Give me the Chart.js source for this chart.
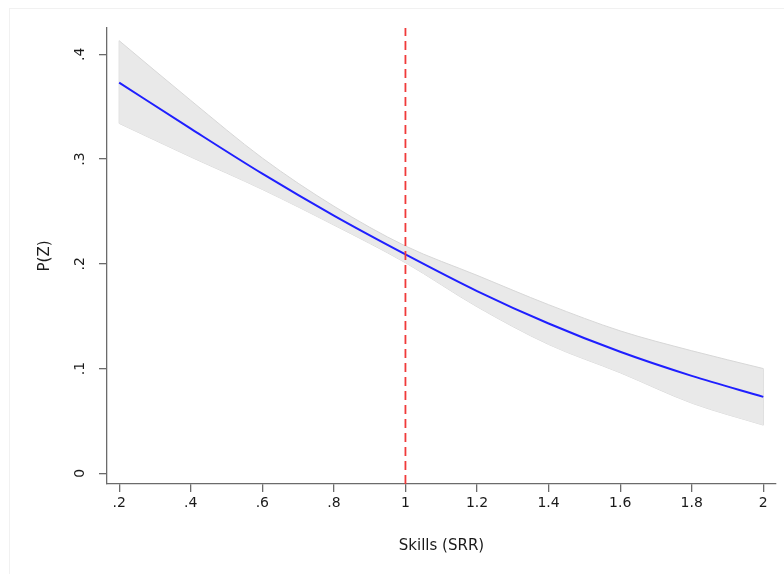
<!DOCTYPE html>
<html>
<head>
<meta charset="utf-8">
<script src="https://cdn.jsdelivr.net/npm/chart.js@4.4.1/dist/chart.umd.min.js"></script>
<style>
  html, body { margin: 0; padding: 0; background: #fff; }
  #wrap { position: relative; width: 784px; height: 574px; }
  #frame { position: absolute; left: 9px; top: 8px; right: 0; bottom: 0;
           border-left: 1px solid #f1f1f1; border-top: 1px solid #f1f1f1; }
  #graph { position: absolute; left: 0; top: 0; }
</style>
</head>
<body>
<div id="wrap">
  <div id="frame"></div>
  <canvas id="graph" width="784" height="574"></canvas>
</div>
<script>
// predicted probability with 95% CI over skills
var xVals = [0.2, 0.4, 0.6, 0.8, 1.0, 1.2, 1.4, 1.6, 1.8, 2.0];
var pz = [0.373, 0.329, 0.286, 0.246, 0.209, 0.174, 0.143, 0.116, 0.093, 0.073];
var upperCI = [0.413, 0.356, 0.301, 0.255, 0.217, 0.189, 0.161, 0.136, 0.117, 0.100];
var lowerCI = [0.334, 0.302, 0.271, 0.237, 0.201, 0.159, 0.123, 0.096, 0.067, 0.046];

var xTicks = [0.2, 0.4, 0.6, 0.8, 1, 1.2, 1.4, 1.6, 1.8, 2];
var yTicks = [0, 0.1, 0.2, 0.3, 0.4];
var refX = 1;

var xMin = 0.166, xMax = 2.0355;
var yMin = -0.0102, yMax = 0.4251;

var axisColor = '#6b6b6b';
var textColor = '#1a1a1a';
var bandEdge = '#d7d7d7';

function stataLabel(v) {
  var s = String(+Number(v).toFixed(1));
  return s.replace(/^0\./, '.');
}

function pts(ys) {
  return xVals.map(function (x, i) { return { x: x, y: ys[i] }; });
}

// short vertical segment closing the band at index i
function edge(i) {
  return {
    data: [{ x: xVals[i], y: lowerCI[i] }, { x: xVals[i], y: upperCI[i] }],
    fill: false,
    borderColor: bandEdge,
    borderWidth: 1,
    pointRadius: 0
  };
}

document.addEventListener('DOMContentLoaded', function () {
  var graph = document.getElementById('graph').getContext('2d');

  var myChart = new Chart(graph, {
    type: 'line',
    data: {
      datasets: [{
        data: [{ x: refX, y: yMin }, { x: refX, y: yMax }],
        fill: false,
        borderColor: '#f03a3a',
        borderWidth: 1.8,
        borderDash: [9, 5],
        pointRadius: 0
      }, {
        data: pts(pz),
        fill: false,
        borderColor: '#1f1fff',
        borderWidth: 2,
        pointRadius: 0,
        cubicInterpolationMode: 'monotone'
      }, {
        data: pts(upperCI),
        fill: '+1',
        backgroundColor: '#e9e9e9',
        borderColor: bandEdge,
        borderWidth: 1,
        pointRadius: 0,
        cubicInterpolationMode: 'monotone'
      }, {
        data: pts(lowerCI),
        fill: false,
        borderColor: bandEdge,
        borderWidth: 1,
        pointRadius: 0,
        cubicInterpolationMode: 'monotone'
      },
      edge(0),
      edge(xVals.length - 1)]
    },
    options: {
      responsive: false,
      animation: false,
      layout: { padding: { left: 0, top: 28, right: 8, bottom: 0 } },
      plugins: {
        legend: { display: false },
        tooltip: { enabled: false }
      },
      scales: {
        x: {
          type: 'linear',
          min: xMin,
          max: xMax,
          afterBuildTicks: function (scale) {
            scale.ticks = xTicks.map(function (v) { return { value: v }; });
          },
          afterFit: function (scale) { scale.height = 90; },
          ticks: {
            color: textColor,
            font: { family: 'DejaVu Sans', size: 14 },
            padding: 3,
            maxRotation: 0,
            autoSkip: false,
            callback: function (v) { return stataLabel(v); }
          },
          grid: {
            drawOnChartArea: false,
            color: axisColor,
            lineWidth: 1.3,
            tickLength: 8
          },
          border: { color: axisColor, width: 1.3 },
          title: {
            display: true,
            text: 'Skills (SRR)',
            color: textColor,
            font: { family: 'DejaVu Sans', size: 15 },
            padding: { top: 0, bottom: 19 }
          }
        },
        y: {
          type: 'linear',
          min: yMin,
          max: yMax,
          afterBuildTicks: function (scale) {
            scale.ticks = yTicks.map(function (v) { return { value: v }; });
          },
          afterFit: function (scale) { scale.width = 107; },
          ticks: {
            color: textColor,
            font: { family: 'DejaVu Sans', size: 14 },
            minRotation: 90,
            maxRotation: 90,
            crossAlign: 'center',
            padding: 12,
            autoSkip: false,
            callback: function (v) { return stataLabel(v); }
          },
          grid: {
            drawOnChartArea: false,
            color: axisColor,
            lineWidth: 1.3,
            tickLength: 8
          },
          border: { color: axisColor, width: 1.3 },
          title: {
            display: true,
            text: 'P(Z)',
            color: textColor,
            font: { family: 'DejaVu Sans', size: 15 },
            padding: { top: 36, bottom: 0 }
          }
        }
      }
    }
  });
});
</script>
</body>
</html>
